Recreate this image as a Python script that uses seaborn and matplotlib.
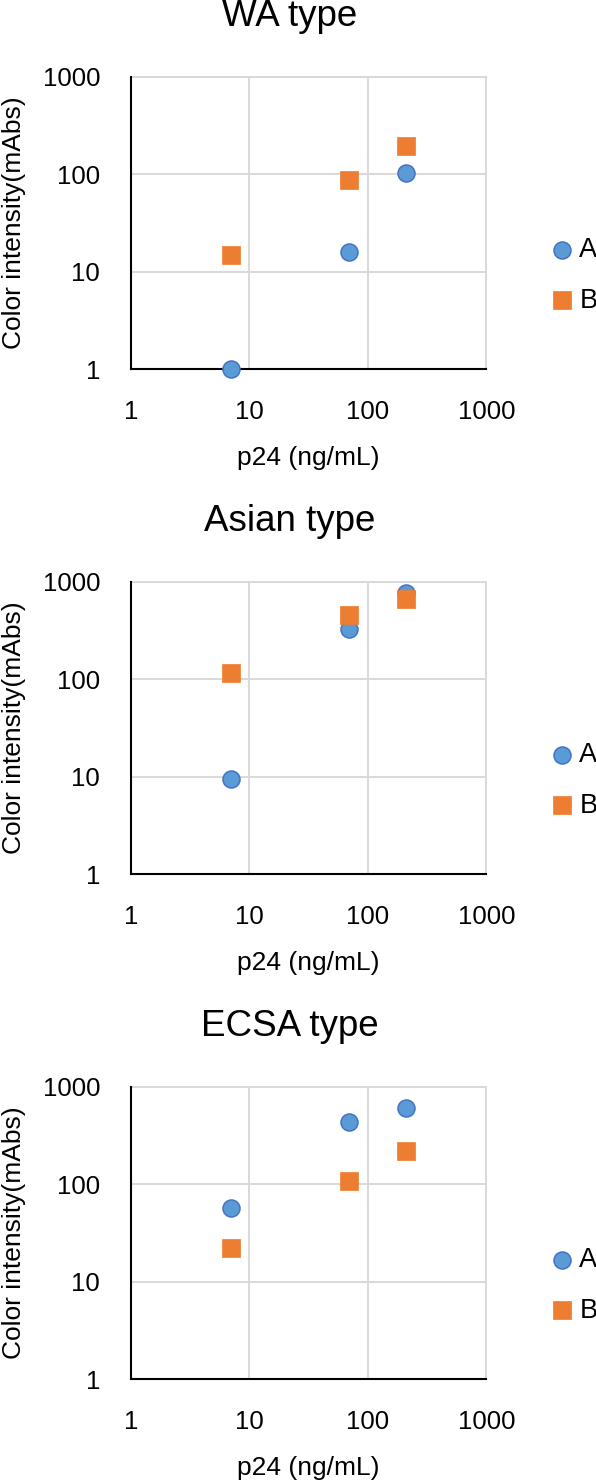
import matplotlib
matplotlib.use("Agg")
import matplotlib.pyplot as plt
import seaborn as sns

# ---- data ----
p24_ng_ml = [7, 70, 210]
panel_titles = ["WA type", "Asian type", "ECSA type"]
series_names = ["A", "B"]

wa_A = [1.0, 16, 103]
wa_B = [15, 87, 195]
asian_A = [9.4, 327, 759]
asian_B = [115, 455, 659]
ecsa_A = [57, 438, 600]
ecsa_B = [22.3, 109, 217]

tick_values = [1, 10, 100, 1000]
tick_labels = ["1", "10", "100", "1000"]

x_label = "p24 (ng/mL)"
y_label = "Color intensity(mAbs)"

# ---- style ----
sns.set_style("white")
plt.rcParams["font.family"] = ["Liberation Sans", "DejaVu Sans"]
plt.rcParams["text.color"] = "black"
plt.rcParams["axes.labelcolor"] = "black"
plt.rcParams["xtick.color"] = "black"
plt.rcParams["ytick.color"] = "black"

W, H = 596, 1481
fig = plt.figure(figsize=(W / 100, H / 100), dpi=100)

ax_left = 130.7
ax_w = 355.6
ax_h = 292.6
ax_tops = [76.7, 581.7, 1086.7]

colors = {"A": "#5B9BD5", "B": "#ED7D31"}
edges = {"A": "#4472C4", "B": "#ED7D31"}
markers = {"A": "o", "B": "s"}

panels = [(wa_A, wa_B), (asian_A, asian_B), (ecsa_A, ecsa_B)]

for title, (vals_A, vals_B), top in zip(panel_titles, panels, ax_tops):
    ax = fig.add_axes([ax_left / W, 1 - (top + ax_h) / H, ax_w / W, ax_h / H])
    for name, vals in zip(series_names, (vals_A, vals_B)):
        sns.scatterplot(x=p24_ng_ml, y=vals, ax=ax, color=colors[name],
                        edgecolor=edges[name], linewidth=1.1 if name == "A" else 0.5,
                        marker=markers[name], s=150, label=name,
                        clip_on=False, zorder=5)
    ax.set_xscale("log")
    ax.set_yscale("log")
    ax.set_xlim(1, 1000)
    ax.set_ylim(1, 1000)
    ax.set_xticks(tick_values)
    ax.set_xticklabels(tick_labels)
    ax.set_yticks(tick_values)
    ax.set_yticklabels(tick_labels)
    ax.minorticks_off()
    ax.tick_params(axis="both", length=0, pad=22, labelsize=18.5, colors="black")
    ax.grid(True, color="#D9D9D9", linewidth=1.4)
    ax.set_axisbelow(True)
    for side in ("top", "right"):
        ax.spines[side].set_color("#D9D9D9")
        ax.spines[side].set_linewidth(1.4)
    for side in ("left", "bottom"):
        ax.spines[side].set_color("black")
        ax.spines[side].set_linewidth(1.5)
        ax.spines[side].set_zorder(3)

    ax.set_xlabel(x_label, fontsize=19, va="center", color="black")
    ax.xaxis.set_label_coords(0.5, -88.7 / ax_h)
    ax.set_ylabel(y_label, fontsize=19, va="center", color="black")
    ax.yaxis.set_label_coords((14 - ax_left) / ax_w, 0.5)

    ax.text((290 - ax_left) / ax_w, 1 + 51 / ax_h, title, transform=ax.transAxes,
            ha="center", va="baseline", fontsize=26.5, color="black")

    handles, labels = ax.get_legend_handles_labels()
    leg = ax.legend(handles, labels, loc="center left",
                    bbox_to_anchor=((553.7 - ax_left) / ax_w, 0.321),
                    frameon=False, fontsize=19.5, markerscale=1.0,
                    handlelength=0.6, handletextpad=0.35, labelspacing=0.9,
                    borderpad=0, borderaxespad=0)
    for t in leg.get_texts():
        t.set_color("black")

fig.savefig("out.png", dpi=100)
